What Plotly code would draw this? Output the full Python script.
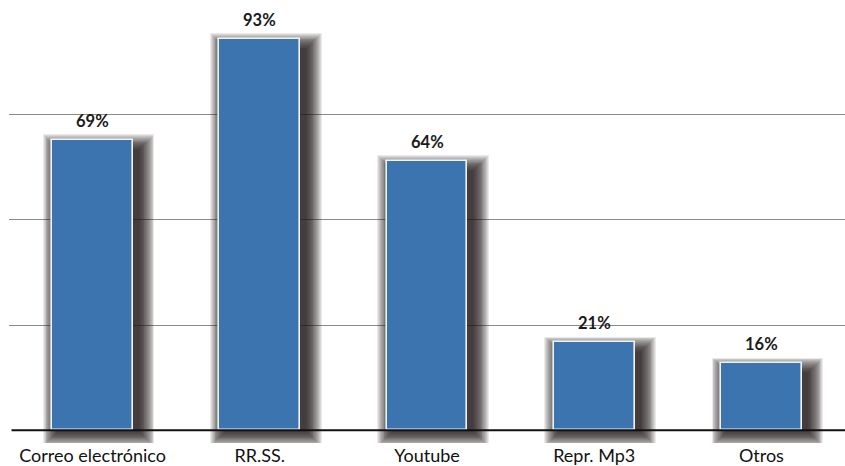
import plotly.graph_objects as go

# Survey results: share of respondents per use
categories = ["Correo electrónico", "RR.SS.", "Youtube", "Repr. Mp3", "Otros"]
values = [69, 93, 64, 21, 16]
grid_values = [25, 50, 75]

BAR_COLOR = "#3b74ae"
SHADOW_RGB = "36,22,20"
BAR_WIDTH = 0.484          # in category units
PX_X = 836 / 5             # pixels per category
PX_Y = 4.25                # pixels per percent

fig = go.Figure()

# Soft drop shadow built from stacked translucent bars, widening outward
n_layers = 18
step = 0.9                 # px of growth per layer
shift_x = 6 / PX_X
for k in range(n_layers):
    grow_x = (step * k) / PX_X
    grow_y = (step * k) / PX_Y
    width = BAR_WIDTH + 2 * grow_x
    top = [v - 10 / PX_Y + grow_y for v in values]
    bottom = -(1 / PX_Y + grow_y)
    fig.add_trace(go.Bar(
        x=list(range(len(categories))),
        y=[t - bottom for t in top],
        base=[bottom] * len(values),
        width=width,
        offset=-width / 2 + shift_x,
        marker=dict(color=f"rgba({SHADOW_RGB},0.09)", line=dict(width=0)),
        hoverinfo="skip",
        showlegend=False,
    ))

# Main bars
fig.add_trace(go.Bar(
    x=list(range(len(categories))),
    y=values,
    width=BAR_WIDTH,
    marker=dict(color=BAR_COLOR, line=dict(color="#eef3f8", width=1.6)),
    showlegend=False,
))

# Value labels above bars
for i, v in enumerate(values):
    fig.add_annotation(
        x=i, y=v, text=f"<b>{v}%</b>", showarrow=False,
        yanchor="bottom", yshift=7,
        font=dict(family="Lato", size=16.5, color="#1a1a1a"),
    )

# Baseline
fig.add_shape(type="line", xref="paper", yref="y", x0=0.003, x1=1, y0=0, y1=0,
              line=dict(color="#111111", width=2), layer="above")

fig.update_layout(
    width=845, height=466,
    margin=dict(l=9, r=0, t=9, b=19),
    paper_bgcolor="white", plot_bgcolor="white",
    barmode="overlay",
    bargap=0,
    font=dict(family="Lato", color="#111111"),
    xaxis=dict(
        range=[-0.5, 4.5],
        tickvals=list(range(len(categories))),
        ticktext=categories,
        tickfont=dict(size=18, color="#111111"),
        showgrid=False, zeroline=False, showline=False, ticks="",
    ),
    yaxis=dict(
        range=[-3, 100],
        tickvals=grid_values,
        showticklabels=False,
        showgrid=True, gridcolor="#8a8a8a", gridwidth=1,
        zeroline=False, showline=False, ticks="",
    ),
)

fig.write_html("out.html")
